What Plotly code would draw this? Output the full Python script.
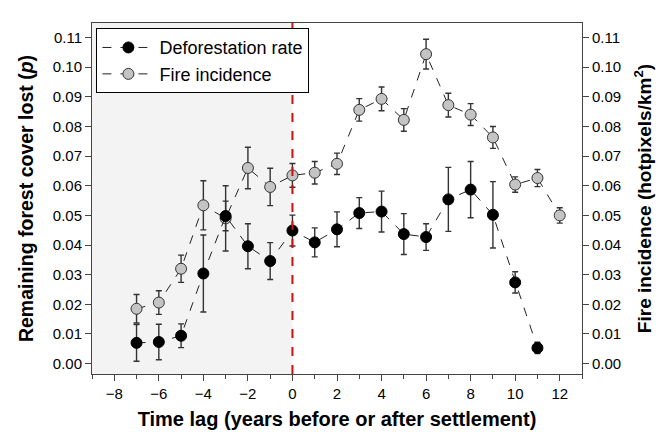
import plotly.graph_objects as go

years = list(range(-7, 12))
defor = [0.0070, 0.0073, 0.0094, 0.0304, 0.0498, 0.0396, 0.0346, 0.0449, 0.0409, 0.0453,
         0.0508, 0.0513, 0.0437, 0.0427, 0.0554, 0.0587, 0.0502, 0.0274, 0.0053]
defor_err = [0.0062, 0.0060, 0.0040, 0.0130, 0.0050, 0.0076, 0.0062, 0.0052, 0.0049, 0.0059,
             0.0052, 0.0069, 0.0069, 0.0045, 0.0108, 0.0095, 0.0112, 0.0036, 0.0019]

fire_years = list(range(-7, 13))
fire = [0.0185, 0.0206, 0.0320, 0.0534, 0.0490, 0.0660, 0.0596, 0.0635, 0.0644, 0.0674,
        0.0856, 0.0893, 0.0822, 0.1044, 0.0872, 0.0840, 0.0763, 0.0604, 0.0626, 0.0500]
fire_err = [0.0048, 0.0040, 0.0046, 0.0083, 0.0110, 0.0070, 0.0063, 0.0040, 0.0038, 0.0036,
            0.0038, 0.0040, 0.0038, 0.0050, 0.0040, 0.0037, 0.0037, 0.0026, 0.0029, 0.0026]

x_ticks = list(range(-8, 13, 2))
y_ticks = [round(i * 0.01, 2) for i in range(12)]
y_range = [-0.0035, 0.1149]

FONT = "Liberation Sans, Arial, sans-serif"

fig = go.Figure()

# Both axes share the same scale; the overlaying axis (y2) draws on top,
# so the deforestation series (drawn on top in the reference) uses it.
fig.add_trace(go.Scatter(
    x=fire_years, y=fire, name="Fire incidence", yaxis="y",
    mode="lines+markers", legendrank=2,
    line=dict(color="#222", width=1, dash="dash"),
    marker=dict(size=11, color="#c4c4c4", line=dict(color="#333", width=1)),
    error_y=dict(type="data", array=fire_err, color="#333", thickness=1.4, width=3),
))
fig.add_trace(go.Scatter(
    x=years, y=defor, name="Deforestation rate", yaxis="y2",
    mode="lines+markers", legendrank=1,
    line=dict(color="#222", width=1, dash="dash"),
    marker=dict(size=11, color="black", line=dict(color="black", width=1)),
    error_y=dict(type="data", array=defor_err, color="#333", thickness=1.4, width=3),
))

fig.add_shape(type="rect", xref="x", yref="paper", x0=-9, x1=0, y0=0, y1=1,
              fillcolor="#f3f3f3", line=dict(width=0), layer="below")
fig.add_shape(type="line", xref="x", yref="paper", x0=0, x1=0, y0=0, y1=1,
              line=dict(color="#cc1111", width=2, dash="dash"), layer="above")

fig.update_layout(
    width=666, height=432,
    margin=dict(l=84, r=92, t=15, b=66),
    paper_bgcolor="white", plot_bgcolor="white",
    font=dict(family=FONT, size=15, color="black"),
    showlegend=True,
    legend=dict(x=0.009, y=0.985, xanchor="left", yanchor="top",
                bgcolor="white", bordercolor="black", borderwidth=1,
                font=dict(size=18), tracegroupgap=0, itemwidth=52),
    xaxis=dict(range=[-9, 13], tickvals=x_ticks, ticks="outside", ticklen=6,
               showline=True, linecolor="#444", mirror=True, showgrid=False, zeroline=False,
               minor=dict(dtick=1, tick0=-9, ticks="outside", ticklen=4, tickcolor="#444"),
               tickcolor="#444",
               title=dict(text="<b>Time lag (years before or after settlement)</b>",
                          font=dict(size=20), standoff=10)),
    yaxis=dict(range=y_range, tickvals=y_ticks, tickformat=".2f", ticks="outside", ticklen=6,
               showline=True, linecolor="#444", mirror=True, showgrid=False, zeroline=False,
               tickcolor="#444",
               title=dict(text="<b>Remaining forest cover lost (<i>p</i>)</b>",
                          font=dict(size=19.5), standoff=13)),
    yaxis2=dict(range=y_range, tickvals=y_ticks, tickformat=".2f", ticks="outside", ticklen=6,
                overlaying="y", side="right", showline=True, linecolor="#444",
                showgrid=False, zeroline=False, tickcolor="#444",
                title=dict(text="<b>Fire incidence (hotpixels/km<sup>2</sup>)</b>",
                           font=dict(size=19), standoff=17)),
)

fig.write_html("out.html")
